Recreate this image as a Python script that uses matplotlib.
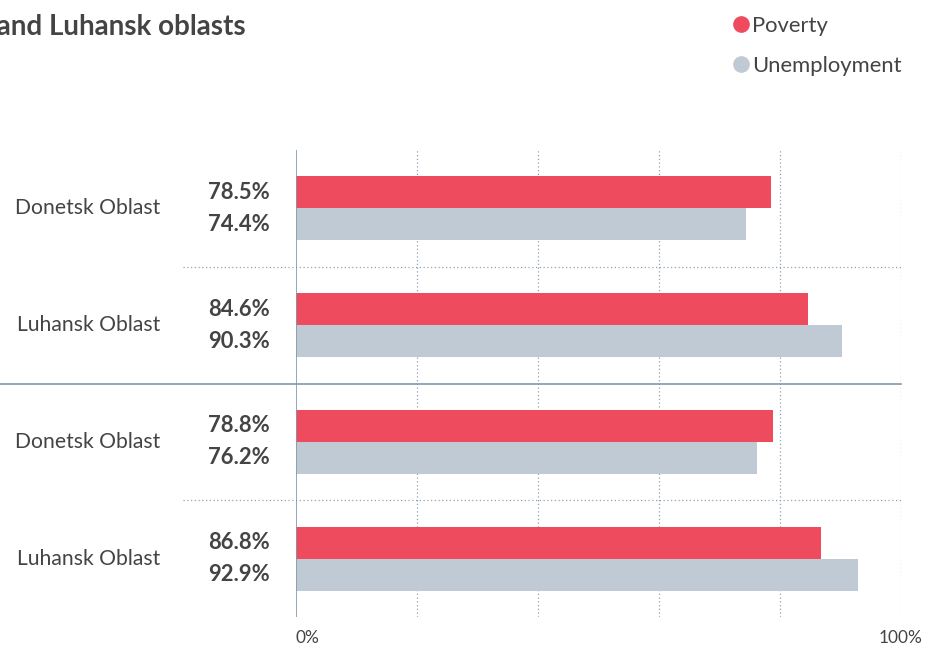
import matplotlib.pyplot as plt
from matplotlib.lines import Line2D

plt.rcParams['font.family'] = ['Lato', 'DejaVu Sans']

regions = ['Donetsk Oblast', 'Luhansk Oblast', 'Donetsk Oblast', 'Luhansk Oblast']
poverty = [78.5, 84.6, 78.8, 86.8]
unemployment = [74.4, 90.3, 76.2, 92.9]
series_names = ['Poverty', 'Unemployment']

RED = '#ef4b5f'
GREY = '#c0cad4'
GRID = '#8da2b8'
TEXT = '#444444'

W, H = 933, 648
fig = plt.figure(figsize=(W / 100, H / 100), dpi=100)
ax = fig.add_axes([296 / W, 1 - 617 / H, 605 / W, 467 / H])

ypos = list(range(len(regions)))
bh = 0.274
ax.barh([y - bh / 2 for y in ypos], poverty, height=bh, color=RED, zorder=3)
ax.barh([y + bh / 2 for y in ypos], unemployment, height=bh, color=GREY, zorder=3)

ax.set_xlim(0, 100)
ax.set_ylim(len(regions) - 0.5, -0.5)
for s in ax.spines.values():
    s.set_visible(False)
ax.set_xticks([])
ax.set_yticks([])

# vertical grid
for x in [20, 40, 60, 80, 100]:
    ax.axvline(x, color=GRID, lw=0.9, ls=(0, (1, 2)), zorder=1)
ax.axvline(0, color='#8298ae', lw=1.2, zorder=4)

# horizontal separators
px = 1 / 605
ytr = ax.get_yaxis_transform()
for ysep in (0.5, 2.5):
    ax.plot([-113 * px, 1], [ysep, ysep], transform=ytr,
            color=GRID, lw=0.9, ls=(0, (1, 2)), clip_on=False, zorder=1)
ax.plot([-296 * px, 1], [1.5, 1.5], transform=ytr,
        color='#8298ae', lw=1.2, clip_on=False, zorder=2)

for y, name, p, u in zip(ypos, regions, poverty, unemployment):
    ax.text(-136 * px, y, name, transform=ytr, ha='right', va='center',
            fontsize=15.2, color=TEXT)
    ax.text(-26 * px, y - bh / 2, f'{p}%', transform=ytr, ha='right', va='center',
            fontsize=15.8, fontweight='bold', color=TEXT)
    ax.text(-26 * px, y + bh / 2, f'{u}%', transform=ytr, ha='right', va='center',
            fontsize=15.8, fontweight='bold', color=TEXT)

xtr = ax.get_xaxis_transform()
ax.text(0, -21 / 467, '0%', transform=xtr, ha='left', va='center', fontsize=12.4, color=TEXT)
ax.text(100, -21 / 467, '100%', transform=xtr, ha='center', va='center', fontsize=12.4, color=TEXT)

# title (cut at left edge, as in the source)
fig.text(246 / W, 1 - 27 / H, 'Donetsk and Luhansk oblasts', ha='right', va='center',
         fontsize=20, fontweight='bold', color=TEXT)

# legend
handles = [Line2D([], [], marker='o', ls='', markersize=11, color=c) for c in (RED, GREY)]
fig.legend(handles, series_names, loc='upper left', bbox_to_anchor=(717 / W, 1 - 5 / H),
           frameon=False, fontsize=15.8, handletextpad=-0.1, labelspacing=0.9,
           handlelength=1.2, borderpad=0, labelcolor=TEXT)

fig.savefig('out.png', dpi=100)
